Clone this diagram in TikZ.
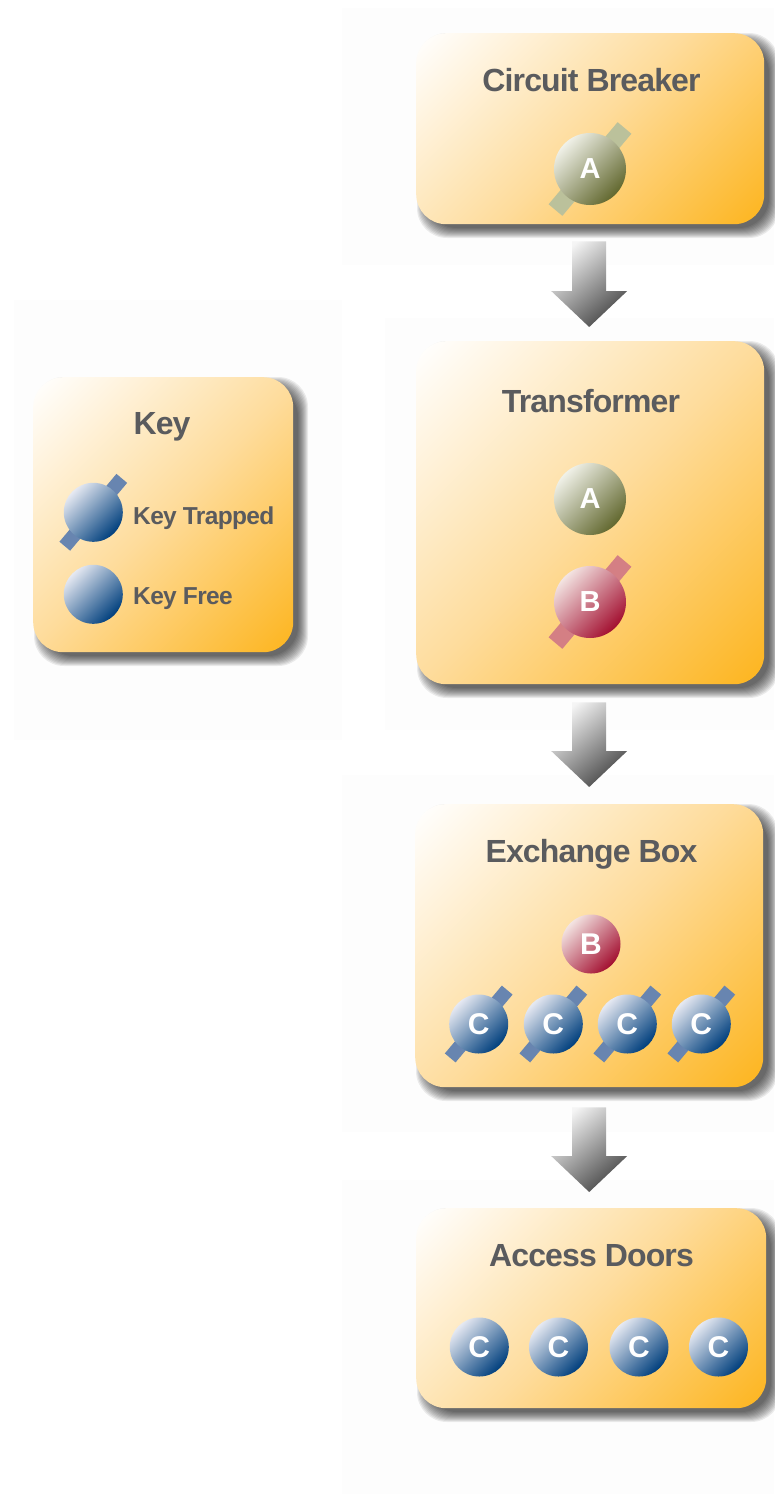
\documentclass[tikz,border=0pt]{standalone}
\usepackage{fontspec}
\setmainfont{Liberation Sans}
\newfontfamily\lblfont[LetterSpace=-2.7]{Liberation Sans Bold}
\usetikzlibrary{calc}
\definecolor{txtgray}{HTML}{5A5B5E}
\definecolor{boxmid}{HTML}{FEDC9C}
\definecolor{boxend}{HTML}{FDB51F}
\definecolor{blueA}{HTML}{E6E9F2}\definecolor{blueB}{HTML}{7590B8}\definecolor{blueC}{HTML}{003F7D}\definecolor{blueBar}{HTML}{6885B0}
\definecolor{redA}{HTML}{F3E4E2}\definecolor{redB}{HTML}{CF6C76}\definecolor{redC}{HTML}{A30F30}\definecolor{redBar}{HTML}{D47F84}
\definecolor{grnA}{HTML}{F0F1E8}\definecolor{grnB}{HTML}{A2A87A}\definecolor{grnC}{HTML}{62682F}\definecolor{grnBar}{HTML}{BBC19B}
\pgfdeclareverticalshading{boxshade}{100bp}{color(0bp)=(boxend); color(15bp)=(boxend); color(50bp)=(boxmid); color(85bp)=(white); color(100bp)=(white)}
\tikzset{
  x=1pt,y=-1pt,
  boxstyle/.style={rounded corners=30pt,inner sep=0pt,anchor=north west,shade,shading=boxshade,shading angle=45},
  titlestyle/.style={font=\lblfont\fontsize{32}{32}\selectfont,text=txtgray,inner sep=0pt,anchor=base},
  lblstyle/.style={font=\lblfont\fontsize{24.5}{25}\selectfont,text=txtgray,inner sep=0pt,anchor=base west},
  knobbase/.style={circle,inner sep=0pt,text=white,font=\lblfont},
  blueknob/.style={knobbase,top color=blueA,middle color=blueB,bottom color=blueC,shading angle=45},
  redknob/.style={knobbase,top color=redA,middle color=redB,bottom color=redC,shading angle=45},
  grnknob/.style={knobbase,top color=grnA,middle color=grnB,bottom color=grnC,shading angle=45},
  arrowfill/.style={top color=gray!8,bottom color=black!72,shading angle=40},
  haze/.style={fill=black!0.8,draw=none}
}
% name, x1, y1, x2, y2
\newcommand{\panelbox}[5]{%
  \foreach \e in {7,6,5,4,3,2,1,0,-1,-2,-3}{%
    \fill[black,opacity=0.075,rounded corners=30pt]
      ({#2+8-\e},{#3+7-\e}) rectangle ({#4+8+\e},{#5+7+\e});}%
  \pgfmathsetmacro{\pw}{#4-#2}\pgfmathsetmacro{\ph}{#5-#3}%
  \node[boxstyle,minimum width=\pw pt,minimum height=\ph pt] (#1) at (#2,#3) {};}
% name, x, y, diameter, letter size, colour name, letter
\newcommand{\freeknob}[7]{%
  \node[#6knob,minimum size=#4pt] (#1) at (#2,#3) {\fontsize{#5}{#5}\selectfont #7};}
% as above + half-run, bar width
\newcommand{\lockknob}[9]{%
  \coordinate (#1c) at (#2,#3);
  \draw[line width=#9pt,color=#6Bar] ($(#1c)+(-#8,#8*1.19)$) -- ($(#1c)+(#8,-#8*1.19)$);
  \freeknob{#1}{#2}{#3}{#4}{#5}{#6}{#7}}
% from-node, to-node, offset below, gap above
\newcommand{\blockarrow}[4]{%
  \path[arrowfill] let \p1=($(#1.south)+(#3)$), \p2=($(#2.north)+(0,-#4)$) in
    (\x1-17pt,\y1) -- (\x1+17pt,\y1) -- (\x1+17pt,\y2+36pt) -- (\x1+38pt,\y2+36pt)
    -- (\x1,\y2) -- (\x1-38pt,\y2+36pt) -- (\x1-17pt,\y2+36pt) -- cycle;}
\begin{document}
\begin{tikzpicture}
\useasboundingbox (0,0) rectangle (774,1494);
\fill[white] (0,0) rectangle (774,1494);
\path[haze] (342,8) rectangle (774,265);
\path[haze] (385,318) rectangle (774,730);
\path[haze] (14,300) rectangle (342,740);
\path[haze] (342,775) rectangle (774,1132);
\path[haze] (342,1180) rectangle (774,1494);

\panelbox{cb}{416}{33}{764}{224}
\panelbox{tr}{416}{341}{764}{684}
\panelbox{ex}{415}{804}{763}{1087}
\panelbox{ad}{416}{1208}{766}{1408}
\panelbox{ky}{33}{377}{293}{652}

\blockarrow{cb}{tr}{-1,17}{14}
\blockarrow{tr}{ex}{-1,18}{17}
\blockarrow{ex}{ad}{0,20}{16}

\node[titlestyle] (cbt) at (591.5,91.5) {Circuit Breaker};
\node[titlestyle] (trt) at (591,412.5) {Transformer};
\node[titlestyle] (ext) at (591.5,862.5) {Exchange Box};
\node[titlestyle] (adt) at (591.5,1266.5) {Access Doors};
\node[titlestyle] (kyt) at (162,434.5) {Key};

\lockknob{a1}{590}{169}{72}{29}{grn}{A}{34.5}{18}
\freeknob{a2}{590}{499}{72}{29}{grn}{A}
\lockknob{b1}{590}{602}{72}{29}{red}{B}{34.5}{18}
\freeknob{b2}{591}{944}{59}{30}{red}{B}
\lockknob{c1}{478.7}{1024}{59}{30}{blue}{C}{28.5}{14}
\lockknob{c2}{553.3}{1024}{59}{30}{blue}{C}{28.5}{14}
\lockknob{c3}{627.3}{1024}{59}{30}{blue}{C}{28.5}{14}
\lockknob{c4}{701.3}{1024}{59}{30}{blue}{C}{28.5}{14}
\freeknob{c5}{479.3}{1347}{59}{30}{blue}{C}
\freeknob{c6}{558.5}{1347}{59}{30}{blue}{C}
\freeknob{c7}{639}{1347}{59}{30}{blue}{C}
\freeknob{c8}{718.5}{1347}{59}{30}{blue}{C}
\lockknob{k1}{93.3}{512.3}{59}{30}{blue}{}{28.5}{14}
\freeknob{k2}{93.3}{594.3}{59}{30}{blue}{}

\node[lblstyle] (l1) at (133,524) {Key Trapped};
\node[lblstyle] (l2) at (133,604.5) {Key Free};
\end{tikzpicture}
\end{document}
